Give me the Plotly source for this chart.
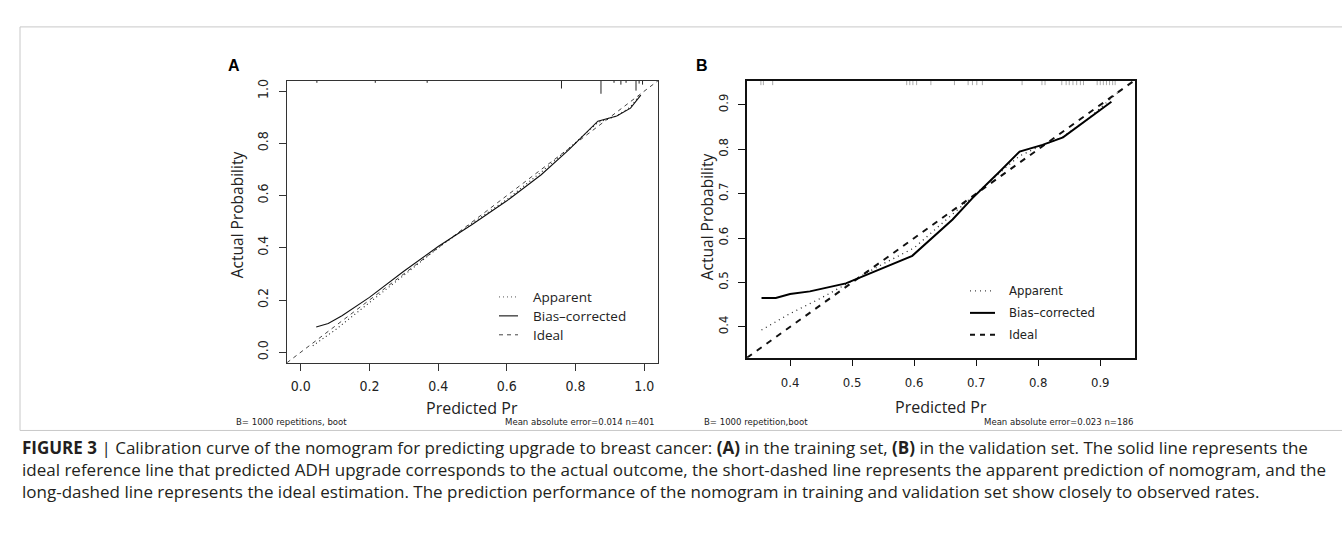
import plotly.graph_objects as go

W, H = 1342, 556

# ---------------- data ----------------
a_ticks = [0.0, 0.2, 0.4, 0.6, 0.8, 1.0]
a_ticktext = ["0.0", "0.2", "0.4", "0.6", "0.8", "1.0"]
a_range = [-0.04, 1.04]
a_ideal = [-0.04, 1.04]
a_app_x = [0.035, 0.10, 0.20, 0.30, 0.40, 0.50, 0.60, 0.70, 0.78, 0.865, 0.92, 0.96, 0.99]
a_app_y = [0.025, 0.085, 0.19, 0.295, 0.40, 0.495, 0.585, 0.69, 0.78, 0.88, 0.905, 0.94, 0.99]
a_bias_x = [0.045, 0.08, 0.12, 0.20, 0.30, 0.40, 0.50, 0.60, 0.70, 0.78, 0.865, 0.92, 0.96, 0.99]
a_bias_y = [0.097, 0.11, 0.14, 0.21, 0.31, 0.405, 0.49, 0.58, 0.68, 0.775, 0.885, 0.905, 0.935, 0.985]
a_rug_x = [0.047, 0.217, 0.368, 0.759, 0.874, 0.912, 0.932, 0.947, 0.976, 0.985, 0.995]
a_rug_h = [0.008, 0.008, 0.008, 0.030, 0.050, 0.008, 0.015, 0.008, 0.038, 0.011, 0.015]

b_ticks = [0.4, 0.5, 0.6, 0.7, 0.8, 0.9]
b_ticktext = ["0.4", "0.5", "0.6", "0.7", "0.8", "0.9"]
b_xrange = [0.3306, 0.956]
b_yrange = [0.3306, 0.9545]
b_ideal = [0.3306, 0.956]
b_app_x = [0.354, 0.40, 0.45, 0.50, 0.55, 0.60, 0.65, 0.70, 0.75, 0.77, 0.80, 0.84, 0.88, 0.93]
b_app_y = [0.393, 0.43, 0.465, 0.503, 0.542, 0.578, 0.64, 0.70, 0.762, 0.785, 0.805, 0.828, 0.868, 0.93]
b_bias_x = [0.354, 0.377, 0.40, 0.432, 0.49, 0.597, 0.662, 0.694, 0.738, 0.77, 0.807, 0.84, 0.918]
b_bias_y = [0.465, 0.465, 0.474, 0.48, 0.498, 0.56, 0.642, 0.69, 0.75, 0.795, 0.81, 0.827, 0.907]
b_rug_x = [0.353, 0.357, 0.372, 0.588, 0.593, 0.598, 0.604, 0.627, 0.665, 0.687, 0.694, 0.701,
           0.710, 0.774, 0.806, 0.811, 0.838, 0.845, 0.850, 0.856, 0.862, 0.868, 0.873, 0.895,
           0.900, 0.905, 0.910, 0.915, 0.920, 0.924]
b_rug_h = [0.010] * len(b_rug_x)

legend_labels = ["Apparent", "Bias\u2013corrected", "Ideal"]
footnotes_a = ["B= 1000 repetitions, boot", "Mean absolute error=0.014 n=401"]
footnotes_b = ["B= 1000 repetition,boot", "Mean absolute error=0.023 n=186"]
caption_lines = [
    "<b>FIGURE 3</b> | Calibration curve of the nomogram for predicting upgrade to breast cancer: <b>(A)</b> in the training set, <b>(B)</b> in the validation set. The solid line represents the",
    "ideal reference line that predicted ADH upgrade corresponds to the actual outcome, the short-dashed line represents the apparent prediction of nomogram, and the",
    "long-dashed line represents the ideal estimation. The prediction performance of the nomogram in training and validation set show closely to observed rates.",
]


def px(x):
    return x / W


def py(y):
    return 1 - y / H


def rug(xs, hs, top):
    xx, yy = [], []
    for x, h in zip(xs, hs):
        xx += [x, x, None]
        yy += [top, top - h, None]
    return xx, yy


fig = go.Figure()

# ---------- panel A ----------
rx, ry = rug(a_rug_x, a_rug_h, a_range[1])
fig.add_trace(go.Scatter(x=rx, y=ry, mode="lines", line=dict(color="#222", width=1),
                         xaxis="x", yaxis="y", showlegend=False, hoverinfo="skip"))
fig.add_trace(go.Scatter(x=a_ideal, y=a_ideal, mode="lines",
                         line=dict(color="#444", width=1, dash="4px,4px"),
                         xaxis="x", yaxis="y", showlegend=False))
fig.add_trace(go.Scatter(x=a_app_x, y=a_app_y, mode="lines",
                         line=dict(color="#222", width=1.1, dash="1px,3px"),
                         xaxis="x", yaxis="y", showlegend=False))
fig.add_trace(go.Scatter(x=a_bias_x, y=a_bias_y, mode="lines",
                         line=dict(color="#111", width=1.1),
                         xaxis="x", yaxis="y", showlegend=False))

# ---------- panel B ----------
rx, ry = rug(b_rug_x, b_rug_h, b_yrange[1])
fig.add_trace(go.Scatter(x=rx, y=ry, mode="lines", line=dict(color="#aaa", width=1),
                         xaxis="x2", yaxis="y2", showlegend=False, hoverinfo="skip"))
fig.add_trace(go.Scatter(x=b_ideal, y=b_ideal, mode="lines",
                         line=dict(color="#111", width=2, dash="6px,6px"),
                         xaxis="x2", yaxis="y2", showlegend=False))
fig.add_trace(go.Scatter(x=b_app_x, y=b_app_y, mode="lines",
                         line=dict(color="#222", width=1.3, dash="1px,4px"),
                         xaxis="x2", yaxis="y2", showlegend=False))
fig.add_trace(go.Scatter(x=b_bias_x, y=b_bias_y, mode="lines",
                         line=dict(color="#000", width=2),
                         xaxis="x2", yaxis="y2", showlegend=False))

narrow = "Liberation Sans Narrow, DejaVu Sans Condensed, Roboto Condensed, Roboto, sans-serif"
tickfont_a = dict(family=narrow, size=14, color="#222")
tickfont_b = dict(family=narrow, size=13, color="#222")

axis_common = dict(showgrid=False, zeroline=False, showline=True, mirror=True,
                   ticks="outside", ticklen=7, tickwidth=1, fixedrange=True)

fig.update_layout(
    width=W, height=H, margin=dict(l=0, r=0, t=0, b=0),
    paper_bgcolor="white", plot_bgcolor="white", showlegend=False,
    xaxis=dict(domain=[px(287), px(658)], range=a_range, tickvals=a_ticks, ticktext=a_ticktext,
               linecolor="#333", linewidth=1, tickcolor="#333", tickfont=tickfont_a,
               ticklabelstandoff=4, anchor="y", **axis_common),
    yaxis=dict(domain=[py(362), py(79)], range=a_range, tickvals=a_ticks, ticktext=a_ticktext,
               linecolor="#333", linewidth=1, tickcolor="#333", tickfont=tickfont_a,
               tickangle=-90, ticklabelstandoff=5, anchor="x", **axis_common),
    xaxis2=dict(domain=[px(747), px(1135)], range=b_xrange, tickvals=b_ticks, ticktext=b_ticktext,
                linecolor="#111", linewidth=1.5, tickcolor="#111", tickfont=tickfont_b,
                ticklabelstandoff=5, anchor="y2", **axis_common),
    yaxis2=dict(domain=[py(357), py(79)], range=b_yrange, tickvals=b_ticks, ticktext=b_ticktext,
                linecolor="#111", linewidth=1.5, tickcolor="#111", tickfont=tickfont_b,
                tickangle=-90, ticklabelstandoff=5, anchor="x2", **axis_common),
)

shapes = []
annotations = []
title_font = dict(family="Open Sans, Liberation Sans, sans-serif", size=15.5, color="#222")
xtitle_font = dict(family="Open Sans, Liberation Sans, sans-serif", size=16, color="#222")


def note(x, y, text, font, xa="center", ya="middle", angle=0):
    annotations.append(dict(x=px(x), y=py(y), xref="paper", yref="paper", text=text, showarrow=False,
                            xanchor=xa, yanchor=ya, textangle=angle, font=font))


# outer frame
shapes.append(dict(type="line", xref="paper", yref="paper", x0=px(20), x1=px(1342), y0=py(25), y1=py(25),
                   line=dict(color="#c8c8c8", width=1)))
shapes.append(dict(type="line", xref="paper", yref="paper", x0=px(20), x1=px(20), y0=py(25), y1=py(430),
                   line=dict(color="#c8c8c8", width=1)))
shapes.append(dict(type="line", xref="paper", yref="paper", x0=px(20), x1=px(1342), y0=py(430), y1=py(430),
                   line=dict(color="#c8c8c8", width=1)))

# panel letters
letter_font = dict(family="Liberation Sans, Arial, sans-serif", size=16, color="#000")
note(234, 64, "<b>A</b>", letter_font)
note(702, 64, "<b>B</b>", letter_font)

# axis titles
note(237, 214, "Actual Probability", title_font, angle=-90)
note(707, 216, "Actual Probability", title_font, angle=-90)
note(472, 407, "Predicted Pr", xtitle_font)
note(941, 406, "Predicted Pr", xtitle_font)

# footnotes
foot_font = dict(family=narrow, size=9.5, color="#222")
note(234, 421, footnotes_a[0], foot_font, xa="left")
note(656, 421, footnotes_a[1], foot_font, xa="right")
note(702, 421, footnotes_b[0], foot_font, xa="left")
note(1135, 421, footnotes_b[1], foot_font, xa="right")

# legends (manual, R style)
leg_a_y = [296, 315, 334]
leg_a_styles = [dict(color="#555", width=1, dash="1px,3px"), dict(color="#111", width=1.1),
                dict(color="#444", width=1, dash="4px,4px")]
for lab, yy, st in zip(legend_labels, leg_a_y, leg_a_styles):
    shapes.append(dict(type="line", xref="paper", yref="paper", x0=px(499), x1=px(518), y0=py(yy), y1=py(yy),
                       line=st))
    note(531, yy, lab, dict(family="Open Sans, sans-serif", size=13.5, color="#222"), xa="left")

leg_b_y = [290, 312, 334]
leg_b_styles = [dict(color="#444", width=1.2, dash="1px,4px"), dict(color="#000", width=2),
                dict(color="#111", width=2, dash="5px,5px")]
for lab, yy, st in zip(legend_labels, leg_b_y, leg_b_styles):
    shapes.append(dict(type="line", xref="paper", yref="paper", x0=px(970), x1=px(995), y0=py(yy), y1=py(yy),
                       line=st))
    note(1007, yy, lab, dict(family=narrow, size=13, color="#222"), xa="left")

# caption
cap_font = dict(family="Open Sans, Liberation Sans, sans-serif", size=17, color="#231f20")
for i, line in enumerate(caption_lines):
    note(20, 447 + i * 22, line, cap_font, xa="left")

fig.update_layout(shapes=shapes, annotations=annotations)
fig.write_html("out.html")
